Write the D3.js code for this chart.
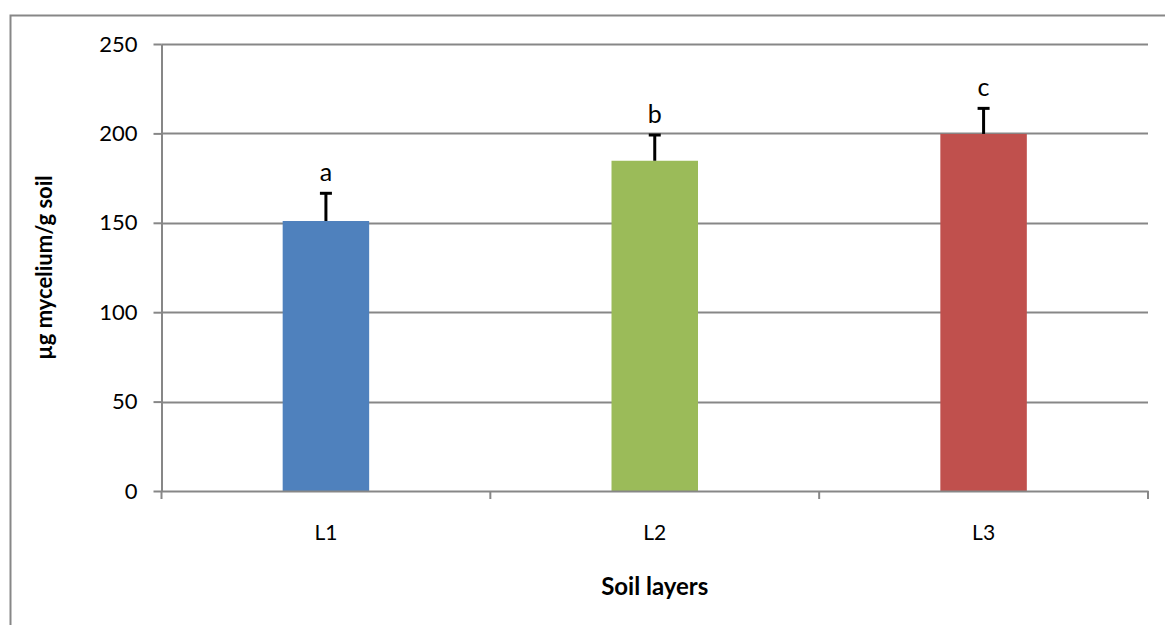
<!DOCTYPE html>
<html><head><meta charset="utf-8">
<script src="https://cdn.jsdelivr.net/npm/d3@7"></script>
<style>
html,body{margin:0;padding:0;background:#fff;}
svg{display:block;font-family:Lato,"Open Sans",sans-serif;}
</style></head>
<body>
<svg id="chart" width="1165" height="625"></svg>
<script>
const categories = ["L1", "L2", "L3"];
const means = [151, 184.7, 199.7];
const errors = [15.5, 14.4, 14.3];
const letters = ["a", "b", "c"];
const colors = ["#4F81BD", "#9BBB59", "#C0504D"];
const yTicks = [0, 50, 100, 150, 200, 250];

const FONT = "Lato, 'Open Sans', sans-serif";
const svg = d3.select("#chart");
const W = 1165, H = 625;
const m = {left: 161.5, right: 1148, top: 44, bottom: 491};

// outer chart border
svg.append("rect").attr("x", 10.5).attr("y", 15.5).attr("width", W + 10).attr("height", H + 10)
  .attr("fill", "#fff").attr("stroke", "#878787").attr("stroke-width", 2);

const x = d3.scaleBand().domain(categories).range([m.left, m.right]).paddingInner(0).paddingOuter(0);
const y = d3.scaleLinear().domain([0, 250]).range([m.bottom, m.top]);
const barW = x.bandwidth() * 0.263;

// gridlines
svg.append("g").selectAll("line").data(yTicks.filter(d => d > 0)).join("line")
  .attr("x1", m.left).attr("x2", m.right)
  .attr("y1", d => Math.round(y(d)) + 0.5).attr("y2", d => Math.round(y(d)) + 0.5)
  .attr("stroke", "#878787").attr("stroke-width", 2);

// y axis
const yAxis = svg.append("g").attr("transform", `translate(${m.left},0)`)
  .call(d3.axisLeft(y).tickValues(yTicks).tickSize(8).tickPadding(16).tickSizeOuter(0));
yAxis.attr("font-size", null).attr("font-family", null);
yAxis.select(".domain").attr("stroke", "#878787").attr("stroke-width", 2);
yAxis.selectAll(".tick line").attr("stroke", "#878787").attr("stroke-width", 2);
yAxis.selectAll(".tick text").style("font-size", "22px").style("font-family", FONT).attr("fill", "#000");

// bars
svg.append("g").selectAll("rect").data(categories).join("rect")
  .attr("x", d => x(d) + x.bandwidth() / 2 - barW / 2)
  .attr("width", barW)
  .attr("y", (d, i) => y(means[i]))
  .attr("height", (d, i) => y(0) - y(means[i]))
  .attr("fill", (d, i) => colors[i]);

// x axis
const xAxis = svg.append("g").attr("transform", `translate(0,${m.bottom})`)
  .call(d3.axisBottom(x).tickSize(0).tickPadding(0));
xAxis.attr("font-size", null).attr("font-family", null);
xAxis.select(".domain").attr("stroke", "#878787").attr("stroke-width", 2);
xAxis.selectAll(".tick text").attr("dy", null).attr("y", 49)
  .style("font-size", "21px").style("font-family", FONT).attr("fill", "#000");
// category boundary ticks
const bounds = categories.map(c => x(c)).concat([m.right]);
svg.append("g").selectAll("line").data(bounds).join("line")
  .attr("x1", d => d).attr("x2", d => d)
  .attr("y1", m.bottom).attr("y2", m.bottom + 8)
  .attr("stroke", "#878787").attr("stroke-width", 2);

// error bars (upper only)
const eb = svg.append("g");
categories.forEach((c, i) => {
  const cx = x(c) + x.bandwidth() / 2;
  const top = y(means[i] + errors[i]);
  eb.append("line").attr("x1", cx).attr("x2", cx)
    .attr("y1", y(means[i])).attr("y2", top)
    .attr("stroke", "#000").attr("stroke-width", 3);
  eb.append("line").attr("x1", cx - 6).attr("x2", cx + 6)
    .attr("y1", top).attr("y2", top)
    .attr("stroke", "#000").attr("stroke-width", 3);
  svg.append("text").attr("x", cx).attr("y", top - 12)
    .attr("text-anchor", "middle").style("font-size", "25px").style("font-family", FONT).attr("fill", "#000")
    .text(letters[i]);
});

// axis titles
svg.append("text").attr("transform", `translate(52,${(m.top + m.bottom) / 2}) rotate(-90)`)
  .attr("text-anchor", "middle").style("font-size", "22px").attr("font-weight", "bold").style("font-family", FONT)
  .text("µg mycelium/g soil");
svg.append("text").attr("x", (m.left + m.right) / 2).attr("y", 595)
  .attr("text-anchor", "middle").style("font-size", "24px").attr("font-weight", "bold").style("font-family", FONT)
  .text("Soil layers");
</script>
</body></html>
